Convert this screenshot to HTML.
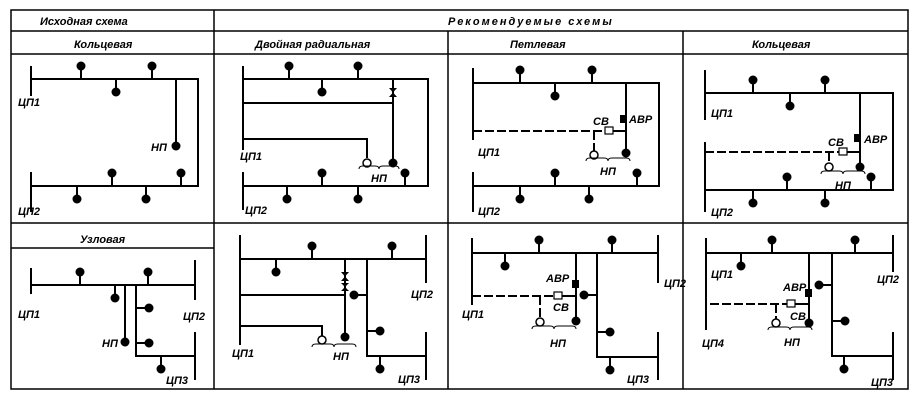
<!DOCTYPE html>
<html><head><meta charset="utf-8"><style>
html,body{margin:0;padding:0;background:#fff;}
svg{display:block}
text{font-family:"Liberation Sans",sans-serif;font-style:italic;font-weight:bold;font-size:11px;fill:#000}
.l{stroke:#000;stroke-width:2;fill:none}
.t{stroke:#000;stroke-width:1.5;fill:none}
.d{stroke:#000;stroke-width:2;fill:none;stroke-dasharray:9 3}
.b{stroke:#000;stroke-width:1;fill:none}
</style></head><body>
<svg width="917" height="406" viewBox="0 0 917 406" xmlns="http://www.w3.org/2000/svg">
<defs>
<g id="du"><line x1="0" y1="0" x2="0" y2="-9" class="l"/><circle cx="0" cy="-13" r="4.5"/></g>
<g id="dd"><line x1="0" y1="0" x2="0" y2="9" class="l"/><circle cx="0" cy="13" r="4.5"/></g>
<g id="dr"><line x1="0" y1="0" x2="-9" y2="0" class="l"/><circle cx="-13" cy="0" r="4.5"/></g>
<g id="dl"><line x1="0" y1="0" x2="9" y2="0" class="l"/><circle cx="13" cy="0" r="4.5"/></g>
</defs>
<!-- table -->
<g class="t">
<rect x="11" y="10" width="897" height="379"/>
<line x1="11" y1="31" x2="908" y2="31"/>
<line x1="11" y1="54" x2="908" y2="54"/>
<line x1="11" y1="223" x2="908" y2="223"/>
<line x1="11" y1="248" x2="214" y2="248"/>
<line x1="214" y1="10" x2="214" y2="389"/>
<line x1="448" y1="31" x2="448" y2="389"/>
<line x1="683" y1="31" x2="683" y2="389"/>
</g>
<text x="40" y="25">Исходная схема</text>
<text x="448" y="25" letter-spacing="2">Рекомендуемые   схемы</text>
<text x="74" y="48">Кольцевая</text>
<text x="255" y="48">Двойная радиальная</text>
<text x="510" y="48">Петлевая</text>
<text x="752" y="48">Кольцевая</text>
<text x="80" y="243">Узловая</text>

<!-- C1 top -->
<g>
<line x1="31" y1="66" x2="31" y2="96" class="l"/>
<line x1="31" y1="172" x2="31" y2="212" class="l"/>
<polyline points="31,79 198,79 198,186 31,186" class="l"/>
<line x1="176" y1="79" x2="176" y2="146" class="l"/><circle cx="176" cy="146" r="4.5"/>
<use href="#du" x="81" y="79"/><use href="#du" x="152" y="79"/><use href="#dd" x="116" y="79"/>
<use href="#du" x="112" y="186"/><use href="#du" x="181" y="186"/>
<use href="#dd" x="77" y="186"/><use href="#dd" x="146" y="186"/>
<text x="18" y="106">ЦП1</text><text x="18" y="215">ЦП2</text><text x="151" y="151">НП</text>
</g>
<!-- C2 top -->
<g>
<line x1="243" y1="66" x2="243" y2="150" class="l"/>
<line x1="243" y1="172" x2="243" y2="210" class="l"/>
<polyline points="243,79 428,79 428,186 243,186" class="l"/>
<line x1="393" y1="79" x2="393" y2="163" class="l"/><circle cx="393" cy="163" r="4.5"/>
<path d="M389,88 L397,88 L389,97 L397,97 Z" fill="#000"/>
<line x1="243" y1="103" x2="393" y2="103" class="l"/>
<polyline points="243,139 367,139 367,158" class="l"/><circle cx="367" cy="163" r="4" fill="#fff" stroke="#000" stroke-width="1.5"/>
<path d="M359,169 q0,-3 4,-3 h12 q4,0 4,3 q0,-3 4,-3 h12 q4,0 4,3" class="b"/>
<use href="#du" x="405" y="186"/>
<use href="#du" x="289" y="79"/><use href="#du" x="358" y="79"/><use href="#dd" x="322" y="79"/>
<use href="#du" x="322" y="186"/><use href="#dd" x="287" y="186"/><use href="#dd" x="358" y="186"/>
<text x="240" y="160">ЦП1</text><text x="245" y="214">ЦП2</text><text x="371" y="182">НП</text>
</g>
<!-- C3 top -->
<g>
<line x1="473" y1="68" x2="473" y2="140" class="l"/>
<line x1="473" y1="172" x2="473" y2="212" class="l"/>
<polyline points="473,83 659,83 659,186 473,186" class="l"/>
<line x1="626" y1="83" x2="626" y2="153" class="l"/><circle cx="626" cy="153" r="4.5"/>
<rect x="620" y="115" width="7" height="8"/>
<line x1="473" y1="131" x2="605" y2="131" class="d"/>
<rect x="605" y="127" width="8" height="7" fill="#fff" stroke="#000" stroke-width="1.2"/>
<line x1="613" y1="131" x2="626" y2="131" class="l"/>
<line x1="594" y1="131" x2="594" y2="151" class="d"/><circle cx="594" cy="155" r="4" fill="#fff" stroke="#000" stroke-width="1.5"/>
<path d="M586,161 q0,-3 4,-3 h14 q4,0 4,3 q0,-3 4,-3 h14 q4,0 4,3" class="b"/>
<use href="#du" x="520" y="83"/><use href="#du" x="592" y="83"/><use href="#dd" x="555" y="83"/>
<use href="#du" x="555" y="186"/><use href="#du" x="637" y="186"/><use href="#dd" x="520" y="186"/><use href="#dd" x="589" y="186"/>
<text x="478" y="156">ЦП1</text><text x="478" y="215">ЦП2</text><text x="593" y="125">СВ</text><text x="629" y="123">АВР</text><text x="600" y="175">НП</text>
</g>
<!-- C4 top -->
<g>
<line x1="705" y1="70" x2="705" y2="120" class="l"/>
<line x1="705" y1="142" x2="705" y2="212" class="l"/>
<polyline points="705,93 893,93 893,190 705,190" class="l"/>
<line x1="860" y1="93" x2="860" y2="167" class="l"/><circle cx="860" cy="167" r="4.5"/>
<rect x="854" y="134" width="7" height="8"/>
<line x1="705" y1="152" x2="839" y2="152" class="d"/>
<rect x="839" y="148" width="8" height="7" fill="#fff" stroke="#000" stroke-width="1.2"/>
<line x1="847" y1="152" x2="860" y2="152" class="l"/>
<line x1="829" y1="152" x2="829" y2="163" class="d"/><circle cx="829" cy="167" r="4" fill="#fff" stroke="#000" stroke-width="1.5"/>
<path d="M821,174 q0,-3 4,-3 h14 q4,0 4,3 q0,-3 4,-3 h14 q4,0 4,3" class="b"/>
<use href="#du" x="871" y="190"/>
<use href="#du" x="753" y="93"/><use href="#du" x="825" y="93"/><use href="#dd" x="790" y="93"/>
<use href="#du" x="787" y="190"/><use href="#dd" x="753" y="190"/><use href="#dd" x="825" y="190"/>
<text x="711" y="117">ЦП1</text><text x="711" y="216">ЦП2</text><text x="828" y="146">СВ</text><text x="864" y="143">АВР</text><text x="835" y="189">НП</text>
</g>

<!-- C1 bottom -->
<g>
<line x1="31" y1="268" x2="31" y2="294" class="l"/>
<line x1="195" y1="260" x2="195" y2="300" class="l"/>
<line x1="195" y1="332" x2="195" y2="380" class="l"/>
<line x1="31" y1="285" x2="195" y2="285" class="l"/>
<line x1="125" y1="285" x2="125" y2="342" class="l"/><circle cx="125" cy="342" r="4.5"/>
<polyline points="136,285 136,356 195,356" class="l"/>
<use href="#dl" x="136" y="308"/><use href="#dl" x="136" y="343"/><use href="#dd" x="161" y="356"/>
<use href="#du" x="80" y="285"/><use href="#du" x="148" y="285"/><use href="#dd" x="115" y="285"/>
<text x="18" y="318">ЦП1</text><text x="183" y="320">ЦП2</text><text x="166" y="384">ЦП3</text><text x="102" y="347">НП</text>
</g>
<!-- C2 bottom -->
<g>
<line x1="240" y1="235" x2="240" y2="345" class="l"/>
<line x1="426" y1="235" x2="426" y2="283" class="l"/>
<line x1="426" y1="332" x2="426" y2="380" class="l"/>
<line x1="240" y1="259" x2="426" y2="259" class="l"/>
<line x1="345" y1="259" x2="345" y2="337" class="l"/><circle cx="345" cy="337" r="4.5"/>
<path d="M341,272 L349,272 L341,281 L349,281 Z M341,283 L349,283 L341,291 L349,291 Z" fill="#000"/>
<line x1="240" y1="295" x2="345" y2="295" class="l"/>
<polyline points="367,259 367,356 426,356" class="l"/>
<use href="#dr" x="367" y="295"/><use href="#dl" x="367" y="331"/><use href="#dd" x="380" y="356"/>
<polyline points="240,326 322,326 322,336" class="l"/><circle cx="322" cy="340" r="4" fill="#fff" stroke="#000" stroke-width="1.5"/>
<path d="M312,347 q0,-3 4,-3 h14 q4,0 4,3 q0,-3 4,-3 h14 q4,0 4,3" class="b"/>
<use href="#du" x="312" y="259"/><use href="#du" x="392" y="259"/><use href="#dd" x="276" y="259"/>
<text x="232" y="357">ЦП1</text><text x="411" y="298">ЦП2</text><text x="398" y="383">ЦП3</text><text x="333" y="360">НП</text>
</g>
<!-- C3 bottom -->
<g>
<line x1="472" y1="238" x2="472" y2="305" class="l"/>
<line x1="658" y1="235" x2="658" y2="283" class="l"/>
<line x1="658" y1="332" x2="658" y2="380" class="l"/>
<line x1="472" y1="253" x2="658" y2="253" class="l"/>
<line x1="576" y1="253" x2="576" y2="321" class="l"/><circle cx="576" cy="321" r="4.5"/>
<rect x="572" y="280" width="7" height="8"/>
<line x1="472" y1="296" x2="554" y2="296" class="d"/>
<rect x="554" y="292" width="8" height="7" fill="#fff" stroke="#000" stroke-width="1.2"/>
<line x1="562" y1="296" x2="576" y2="296" class="l"/>
<line x1="540" y1="296" x2="540" y2="318" class="d"/><circle cx="540" cy="322" r="4" fill="#fff" stroke="#000" stroke-width="1.5"/>
<path d="M532,329 q0,-3 4,-3 h14 q4,0 4,3 q0,-3 4,-3 h14 q4,0 4,3" class="b"/>
<polyline points="597,253 597,357 658,357" class="l"/>
<use href="#dr" x="597" y="295"/><use href="#dl" x="597" y="332"/><use href="#dd" x="610" y="357"/>
<use href="#du" x="539" y="253"/><use href="#du" x="612" y="253"/><use href="#dd" x="505" y="253"/>
<text x="462" y="318">ЦП1</text><text x="664" y="287">ЦП2</text><text x="627" y="383">ЦП3</text><text x="546" y="282">АВР</text><text x="553" y="311">СВ</text><text x="550" y="347">НП</text>
</g>
<!-- C4 bottom -->
<g>
<line x1="706" y1="238" x2="706" y2="290" class="l"/>
<line x1="706" y1="285" x2="706" y2="330" class="l"/>
<line x1="893" y1="235" x2="893" y2="272" class="l"/>
<line x1="893" y1="332" x2="893" y2="380" class="l"/>
<line x1="706" y1="253" x2="893" y2="253" class="l"/>
<line x1="809" y1="253" x2="809" y2="323" class="l"/><circle cx="809" cy="323" r="4.5"/>
<rect x="805" y="289" width="7" height="8"/>
<line x1="710" y1="304" x2="787" y2="304" class="d"/>
<rect x="787" y="300" width="8" height="7" fill="#fff" stroke="#000" stroke-width="1.2"/>
<line x1="795" y1="304" x2="809" y2="304" class="l"/>
<line x1="776" y1="304" x2="776" y2="319" class="d"/><circle cx="776" cy="323" r="4" fill="#fff" stroke="#000" stroke-width="1.5"/>
<path d="M768,330 q0,-3 4,-3 h14 q4,0 4,3 q0,-3 4,-3 h14 q4,0 4,3" class="b"/>
<polyline points="832,253 832,356 893,356" class="l"/>
<use href="#dr" x="832" y="285"/><use href="#dl" x="832" y="321"/><use href="#dd" x="844" y="356"/>
<use href="#du" x="772" y="253"/><use href="#du" x="855" y="253"/><use href="#dd" x="741" y="253"/>
<text x="711" y="278">ЦП1</text><text x="877" y="283">ЦП2</text><text x="702" y="347">ЦП4</text><text x="871" y="386">ЦП3</text><text x="783" y="291">АВР</text><text x="790" y="320">СВ</text><text x="784" y="346">НП</text>
</g>
</svg>
</body></html>
